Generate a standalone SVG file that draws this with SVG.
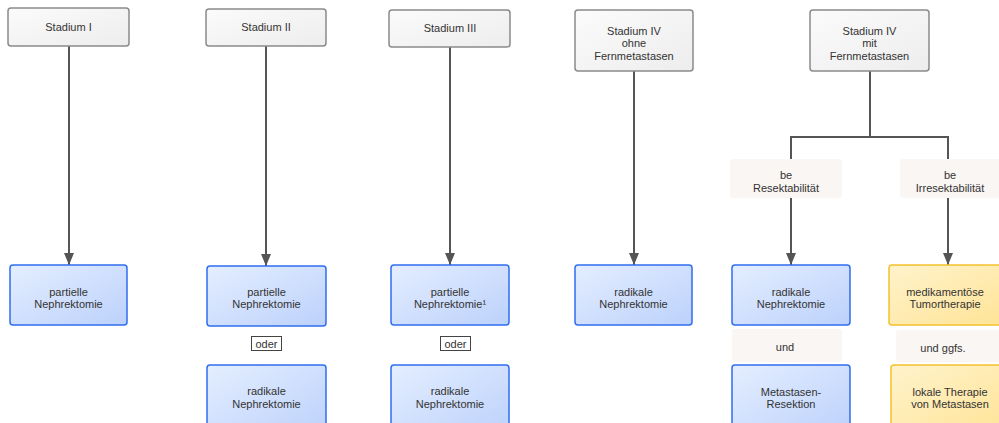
<svg xmlns="http://www.w3.org/2000/svg" width="999" height="423" viewBox="0 0 999 423">
<defs>
<linearGradient id="gGray" x1="0" y1="0" x2="1" y2="1"><stop offset="0" stop-color="#fbfbfb"/><stop offset="1" stop-color="#ededed"/></linearGradient>
<linearGradient id="gBlue" x1="0" y1="0" x2="1" y2="1"><stop offset="0" stop-color="#e4eeff"/><stop offset="1" stop-color="#bcd1fb"/></linearGradient>
<linearGradient id="gOrange" x1="0" y1="0" x2="1" y2="1"><stop offset="0" stop-color="#fff3cc"/><stop offset="1" stop-color="#ffe394"/></linearGradient>
<marker id="arr" viewBox="0 0 12 10" refX="12" refY="5" markerWidth="12" markerHeight="10" markerUnits="userSpaceOnUse" orient="auto"><path d="M0,0 L12,5 L0,10 Z" fill="#555"/></marker>
</defs>
<style>
text{font-family:"Liberation Sans",Arial,sans-serif;font-size:11px;fill:#333;text-anchor:middle}
.top{fill:url(#gGray);stroke:#8a8a8a;stroke-width:1.5}
.blue{fill:url(#gBlue);stroke:#2f6ef0;stroke-width:1.5}
.orange{fill:url(#gOrange);stroke:#f3c12c;stroke-width:1.5}
.lbl{fill:#f9f6f4;stroke:none}
.oder{fill:#fff;stroke:#444;stroke-width:1}
.c{fill:none;stroke:#555;stroke-width:2}
</style>
<g id="connectors">
<line class="c" x1="69" y1="46" x2="69" y2="265" marker-end="url(#arr)"/>
<line class="c" x1="266" y1="46" x2="266" y2="266" marker-end="url(#arr)"/>
<line class="c" x1="450" y1="47" x2="450" y2="265" marker-end="url(#arr)"/>
<line class="c" x1="634" y1="71" x2="634" y2="265" marker-end="url(#arr)"/>
<polyline class="c" points="870,71 870,137 791,137 791,159"/>
<polyline class="c" points="870,137 948,137 948,159"/>
<line class="c" x1="791" y1="198" x2="791" y2="265" marker-end="url(#arr)"/>
<line class="c" x1="948" y1="198" x2="948" y2="265" marker-end="url(#arr)"/>
</g>
<g id="s1"><rect class="top" x="8" y="8" width="121" height="38" rx="3"/><text x="68.5" y="31">Stadium I</text></g>
<g id="s2"><rect class="top" x="206" y="9" width="120" height="37" rx="3"/><text x="266" y="31">Stadium II</text></g>
<g id="s3"><rect class="top" x="389" y="10" width="121" height="37" rx="3"/><text x="450" y="32">Stadium III</text></g>
<g id="s4a"><rect class="top" x="575" y="10" width="118" height="61" rx="3"/><text x="634" y="35">Stadium IV</text><text x="634" y="47">ohne</text><text x="634" y="60">Fernmetastasen</text></g>
<g id="s4b"><rect class="top" x="810" y="10" width="119" height="61" rx="3"/><text x="869.5" y="35">Stadium IV</text><text x="869.5" y="47">mit</text><text x="869.5" y="60">Fernmetastasen</text></g>
<g id="res"><rect class="lbl" x="730" y="159" width="112" height="39" rx="3"/><text x="786" y="179">be</text><text x="786" y="192">Resektabilität</text></g>
<g id="irres"><rect class="lbl" x="900" y="159" width="110" height="39" rx="3"/><text x="950" y="179">be</text><text x="950" y="192">Irresektabilität</text></g>
<g id="b1"><rect class="blue" x="10" y="265" width="117" height="60" rx="3"/><text x="68.5" y="296">partielle</text><text x="68.5" y="308">Nephrektomie</text></g>
<g id="b2"><rect class="blue" x="207" y="266" width="119" height="60" rx="3"/><text x="266.5" y="296">partielle</text><text x="266.5" y="308">Nephrektomie</text></g>
<g id="oder2"><rect class="oder" x="251.5" y="336.5" width="30" height="14"/><text x="266.5" y="347.5">oder</text></g>
<g id="b2r"><rect class="blue" x="207" y="365" width="119" height="70" rx="3"/><text x="266.5" y="395">radikale</text><text x="266.5" y="408">Nephrektomie</text></g>
<g id="b3"><rect class="blue" x="391" y="265" width="118" height="60" rx="3"/><text x="450" y="296">partielle</text><text x="450" y="308">Nephrektomie¹</text></g>
<g id="oder3"><rect class="oder" x="440.5" y="336.5" width="30" height="14"/><text x="455.5" y="347.5">oder</text></g>
<g id="b3r"><rect class="blue" x="391" y="365" width="118" height="70" rx="3"/><text x="450" y="395">radikale</text><text x="450" y="408">Nephrektomie</text></g>
<g id="b4"><rect class="blue" x="575" y="265" width="117" height="60" rx="3"/><text x="633.5" y="296">radikale</text><text x="633.5" y="308">Nephrektomie</text></g>
<g id="b5"><rect class="blue" x="732" y="265" width="118" height="60" rx="3"/><text x="791" y="296">radikale</text><text x="791" y="308">Nephrektomie</text></g>
<g id="und"><rect class="lbl" x="732" y="329" width="110" height="33" rx="3"/><text x="785" y="351">und</text></g>
<g id="b5m"><rect class="blue" x="732" y="365" width="118" height="70" rx="3"/><text x="791" y="396">Metastasen-</text><text x="791" y="408">Resektion</text></g>
<g id="o1"><rect class="orange" x="889" y="265" width="125" height="60" rx="3"/><text x="945" y="296">medikamentöse</text><text x="945" y="308">Tumortherapie</text></g>
<g id="undg"><rect class="lbl" x="896" y="330" width="115" height="32" rx="3"/><text x="943" y="352">und ggfs.</text></g>
<g id="o2"><rect class="orange" x="891" y="365" width="125" height="70" rx="3"/><text x="950" y="396">lokale Therapie</text><text x="950" y="408">von Metastasen</text></g>
</svg>
